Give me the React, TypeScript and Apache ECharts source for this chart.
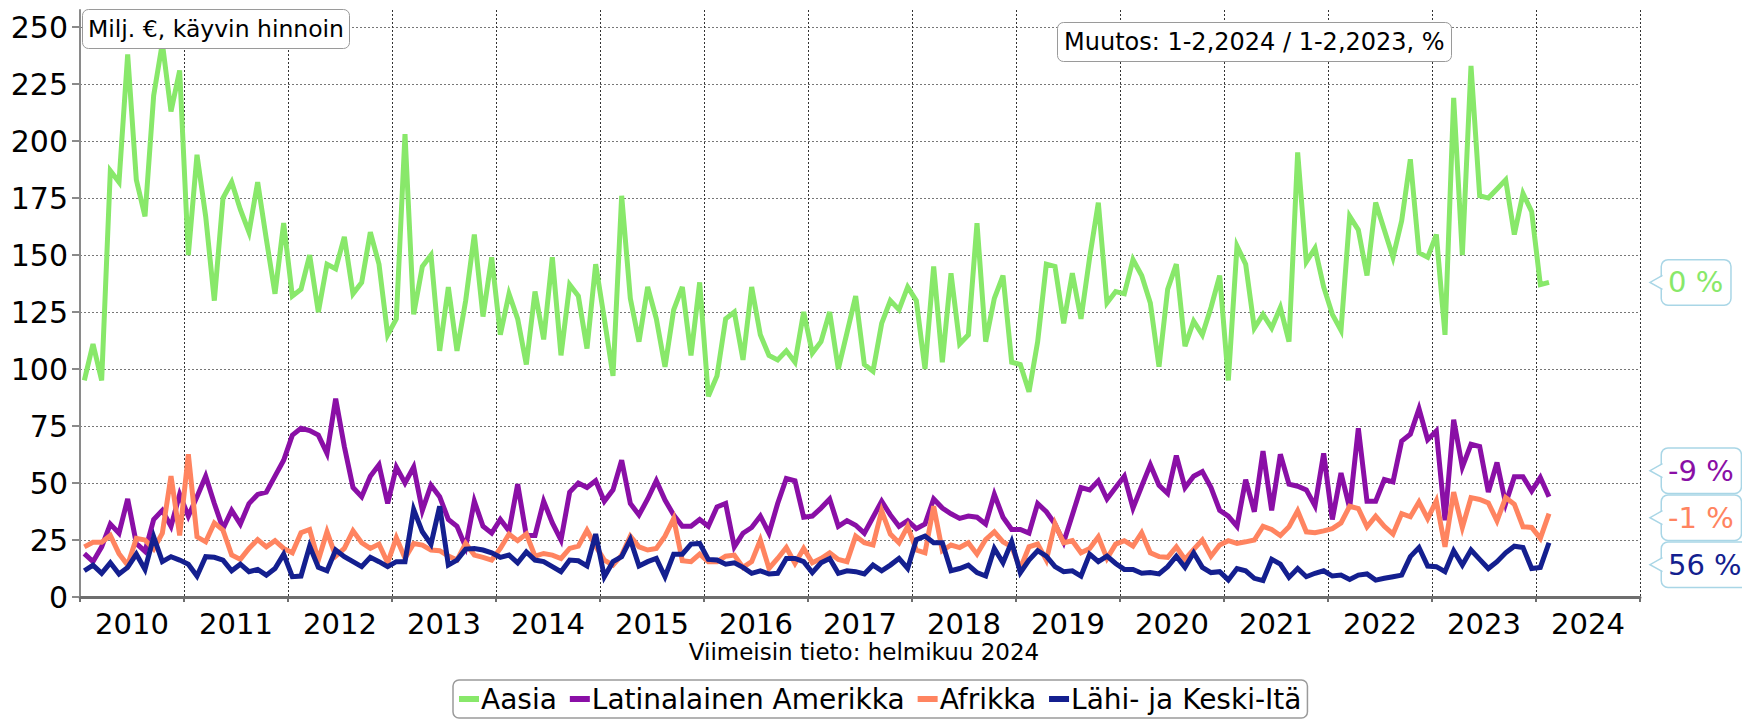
import React, { useEffect, useRef } from "react";
import * as echarts from "echarts";

const years = [2010, 2011, 2012, 2013, 2014, 2015, 2016, 2017, 2018, 2019, 2020, 2021, 2022, 2023, 2024];
const seriesNames = ["Aasia", "Latinalainen Amerikka", "Afrikka", "Lähi- ja Keski-Itä"];
const seriesColors = ["#88E86A", "#8A0FA6", "#FF8460", "#141F8F"];
const changeLabels = ["0 %", "-9 %", "-1 %", "56 %"];
const yTickStep = 25;
const yTop = 257.5;

// Monthly values, Jan 2010 – Feb 2024 (milj. €)
const aasia = [
  95, 111, 95, 187, 182, 238, 183, 167, 220, 243, 213, 231,
  150, 194, 167, 130, 175, 182, 170, 160, 182, 157, 133, 164,
  132, 135, 150, 125, 146, 144, 158, 133, 138, 160, 146, 115,
  122, 203, 124, 145, 150, 108, 136, 108, 130, 159, 123, 149,
  115, 133, 122, 102, 134, 113, 149, 106, 137, 132, 109, 146,
  122, 97, 176, 131, 112, 136, 122, 101, 126, 136, 106, 138,
  88, 97, 122, 125, 104, 136, 115, 106, 104, 108, 103, 125,
  107, 112, 125, 100, 116, 132, 102, 99, 120, 130, 126, 136,
  130, 100, 145, 103, 142, 111, 115, 164, 112, 131, 141, 103,
  102, 90, 112, 146, 145, 120, 142, 122, 149, 173, 129, 134,
  133, 148, 141, 129, 101, 135, 146, 110, 121, 115, 127, 141,
  95, 154, 146, 118, 124, 118, 127, 112, 195, 147, 153, 136,
  124, 117, 167, 161, 141, 173, 161, 149, 165, 192, 151, 149,
  159, 115, 219, 150, 233, 176, 175, 179, 183, 159, 177, 169,
  137, 138,
];
const latinalainenAmerikka = [
  19, 15.5, 22, 32, 28, 43, 23.5, 20, 34, 38, 31, 45,
  35.5, 44, 53, 41, 30, 38, 32, 41, 45, 46, 53, 60,
  71, 74, 73, 71, 63, 87, 66, 48, 44, 53, 58, 41,
  57, 50, 57, 38, 49, 44, 34, 31, 22, 42, 31, 28,
  34, 29, 49.5, 27, 27, 42, 32.5, 25, 46, 50, 48, 51,
  42, 47, 60, 41, 36, 43, 51, 42.5, 36, 31, 31, 34,
  31, 39.5, 41, 22, 28, 30.5, 35.5, 28, 41, 52, 51, 35,
  35.5, 39, 43, 31, 33.5, 31.5, 28, 35, 42, 36, 31, 33.5,
  30, 32, 43, 39, 36.5, 34.5, 35.5, 35, 32, 45, 35, 29.6,
  29.6, 28, 41, 37.4, 32, 24, 36, 48, 47, 51, 43, 48,
  53, 39, 48.6, 58, 49, 45.4, 62, 48, 53, 55, 48, 38,
  35.5, 31, 51.5, 37.4, 64, 38, 62.6, 49.5, 48.6, 47, 40, 63,
  34, 54.4, 39, 74, 42, 42, 51.5, 50.5, 68.4, 71.4, 82.6, 69,
  72.8, 33.7, 77.8, 57, 67, 66, 46, 59, 41, 52.7, 52.7, 46.5,
  52.4, 44,
];
const afrikka = [
  22, 24, 24, 27, 19, 14, 25.7, 25, 21, 28, 53, 27,
  62.6, 26.4, 24.2, 32.5, 29.3, 18.4, 16.5, 21.3, 25.2, 22, 24.7, 21.3,
  19.4, 28.2, 29.6, 16.2, 28.6, 17.9, 21.3, 29, 23.8, 21.3, 23.2, 15,
  26, 17, 23.5, 22.8, 20.6, 20.3, 18, 16.2, 23.5, 18.4, 17.4, 16.2,
  21.3, 27.6, 24.7, 27.6, 17.9, 19.1, 18.4, 16.9, 21.3, 22.3, 29.3, 22.3,
  16.2, 14, 18.4, 26.7, 22, 20.6, 21.3, 26.7, 34.4, 15.9, 15.5, 18.8,
  15.5, 15.5, 17.9, 18.4, 13, 15.5, 25, 12.5, 16.9, 21.7, 14.7, 21.3,
  15, 16.9, 19.4, 16.5, 15.5, 26.7, 23.8, 22.8, 37.8, 27.6, 23.8, 31,
  20.6, 19.4, 39.8, 20.3, 22.8, 21.7, 23.8, 18.8, 25.2, 28.6, 24.2, 22,
  12.5, 22, 23.2, 16.2, 32.2, 23.8, 24.7, 19.4, 21.3, 26.4, 16.9, 23.2,
  24.7, 22.3, 28.2, 19.4, 17.7, 17.4, 22, 16.5, 20.9, 25, 17.9, 22.8,
  24.7, 23.5, 24.2, 25, 31, 29.6, 27, 30.8, 37.8, 28.6, 28.2, 29,
  30, 32.5, 39.8, 38.8, 30.8, 35.5, 31, 27.6, 36.6, 35.2, 41.7, 34.4,
  42.2, 22, 46, 30.5, 43.6, 42.8, 41.3, 33.4, 43.6, 40.7, 30.8, 30.5,
  25.7, 36.6,
];
const lahiJaKeskiIta = [
  11.5, 14, 10.4, 15, 10.1, 13, 18.8, 12.1, 26.4, 15.5, 17.7, 16.2,
  14.4, 9.2, 17.7, 17.4, 16.2, 11.5, 14.4, 11.1, 12.1, 9.6, 12.5, 18.8,
  8.9, 9.2, 22.3, 13, 11.5, 20.6, 17.7, 15.5, 13.3, 17.4, 15.5, 13.3,
  15.5, 15.5, 38.4, 28.6, 23.2, 39.8, 14, 16.2, 21, 21.3, 20.6, 19.4,
  17.4, 18.4, 15, 19.8, 16.2, 15.5, 13.3, 11.1, 16.2, 15.9, 13.6, 27.6,
  8.9, 15.5, 17.7, 25.2, 13.6, 15.5, 16.9, 8.9, 18.8, 18.8, 23.2, 23.5,
  16.5, 16.2, 14.4, 15, 13, 10.4, 11.5, 10.1, 10.4, 16.9, 16.9, 15.5,
  10.7, 15, 16.9, 10.4, 11.5, 11.1, 10.1, 14, 11.5, 14, 16.9, 12.5,
  25.2, 26.7, 23.8, 23.8, 11.5, 12.5, 14, 10.7, 9.2, 21.3, 15, 24.2,
  10.7, 16.2, 20.3, 17.9, 13.3, 11.1, 11.5, 9.2, 18.8, 15.5, 17.9, 14.7,
  12.1, 12.1, 10.4, 10.7, 10.1, 13.3, 17.9, 13, 19.4, 13, 10.7, 11.1,
  7.5, 12.5, 11.5, 8.2, 7.2, 16.5, 14.4, 8.6, 12.5, 8.9, 10.4, 11.5,
  9.2, 9.6, 7.7, 9.6, 10.1, 7.4, 8.2, 8.9, 9.6, 17.7, 21.7, 13.6,
  13.3, 11.1, 20.3, 14, 20.6, 16.5, 12.5, 15.5, 19.4, 22.3, 21.7, 12.5,
  13, 23.8,
];

const allData = [aasia, latinalainenAmerikka, afrikka, lahiJaKeskiIta];
const FONT = "'DejaVu Sans', Verdana, sans-serif";

export default function App() {
  const ref = useRef<HTMLDivElement>(null);

  useEffect(() => {
    const el = ref.current;
    if (!el) return;
    const chart = echarts.init(el, null, { renderer: "svg" });
    const months = years.length * 12;

    const option: any = {
      animation: false,
      backgroundColor: "#fff",
      textStyle: { fontFamily: FONT },
      grid: { left: 80, right: 102, top: 10, bottom: 125, containLabel: false },
      title: [
        {
          text: "Milj. €, käyvin hinnoin",
          left: 82,
          top: 9,
          padding: [8, 6],
          borderColor: "#9a9a9a",
          borderWidth: 1,
          borderRadius: 6,
          backgroundColor: "#fff",
          textStyle: { fontSize: 23.5, fontWeight: "normal", color: "#000", fontFamily: FONT, lineHeight: 24 },
          z: 20,
        },
        {
          text: "Muutos: 1-2,2024 / 1-2,2023, %",
          left: 1057,
          top: 22,
          padding: [8, 7],
          borderColor: "#9a9a9a",
          borderWidth: 1,
          borderRadius: 6,
          backgroundColor: "#fff",
          textStyle: { fontSize: 24, fontWeight: "normal", color: "#000", fontFamily: FONT, lineHeight: 24 },
          z: 20,
        },
      ],
      legend: {
        data: seriesNames,
        left: 453,
        top: 680,
        icon: "rect",
        itemWidth: 20,
        itemHeight: 6,
        itemGap: 13,
        padding: [5, 6],
        borderColor: "#9a9a9a",
        borderWidth: 1.5,
        borderRadius: 6,
        textStyle: { fontSize: 28, color: "#000", fontFamily: FONT, padding: [0, 0, 0, -3] },
        selectedMode: false,
      },
      xAxis: [
        {
          type: "value",
          min: 0,
          max: months,
          interval: 12,
          axisLabel: { show: false },
          axisLine: { show: true, lineStyle: { color: "#6e6e6e", width: 3 } },
          axisTick: { show: true, length: 5, lineStyle: { color: "#6e6e6e", width: 2 } },
          splitLine: { show: true, lineStyle: { type: [2, 2], color: "#333", width: 1 } },
        },
        {
          type: "value",
          min: 0,
          max: months,
          interval: 6,
          position: "bottom",
          axisLine: { show: false },
          axisTick: { show: false },
          splitLine: { show: false },
          axisLabel: {
            formatter: (v: number) => (v % 12 === 6 ? String(years[(v - 6) / 12]) : ""),
            fontSize: 29,
            color: "#000",
            fontFamily: FONT,
            margin: 12,
          },
        },
      ],
      yAxis: {
        type: "value",
        min: 0,
        max: yTop,
        interval: yTickStep,
        axisLine: { show: true, lineStyle: { color: "#8a8a8a", width: 2 } },
        axisTick: { show: true, length: 8, lineStyle: { color: "#8a8a8a", width: 2 } },
        axisLabel: { fontSize: 30, color: "#000", fontFamily: FONT, margin: 12, showMaxLabel: false },
        splitLine: { show: true, showMaxLine: false, lineStyle: { type: [2, 2], color: "#777", width: 1 } },
      },
      series: seriesNames.map((name, k) => ({
        name,
        type: "line",
        xAxisIndex: 0,
        yAxisIndex: 0,
        data: allData[k].map((v, i) => [i + 0.5, v]),
        showSymbol: false,
        symbol: "none",
        lineStyle: { width: 5, color: seriesColors[k], join: "miter" },
        itemStyle: { color: seriesColors[k] },
        emphasis: { disabled: true },
        z: 2 + k,
      })),
    };

    chart.setOption(option);

    // Callout labels at the right, centred on each series' last value, spread apart when they overlap
    const STEP = 47;
    const ys = allData.map((arr) => {
      const p = chart.convertToPixel({ gridIndex: 0 }, [arr.length - 0.5, arr[arr.length - 1]]) as number[];
      return p[1];
    });
    const sorted = ys.map((y, k) => ({ k, y })).sort((a, b) => a.y - b.y);
    let groups = sorted.map((it) => ({ members: [it], mean: it.y }));
    let changed = true;
    while (changed) {
      changed = false;
      for (let g = 0; g < groups.length - 1; g++) {
        const a = groups[g];
        const b = groups[g + 1];
        const aBottom = a.mean + ((a.members.length - 1) / 2) * STEP + STEP / 2;
        const bTop = b.mean - ((b.members.length - 1) / 2) * STEP - STEP / 2;
        if (aBottom > bTop) {
          const members = a.members.concat(b.members);
          const mean = members.reduce((s, m) => s + m.y, 0) / members.length;
          groups.splice(g, 2, { members, mean });
          changed = true;
          break;
        }
      }
    }
    const centers: number[] = new Array(ys.length).fill(0);
    groups.forEach((g) => {
      g.members.forEach((m, j) => {
        centers[m.k] = g.mean + (j - (g.members.length - 1) / 2) * STEP;
      });
    });

    const boxX = 1662;
    const tipX = 1650;
    const border = "#a9d6e6";
    const graphics: any[] = [
      {
        type: "text",
        x: 864,
        y: 652,
        style: {
          text: "Viimeisin tieto: helmikuu 2024",
          fill: "#000",
          font: `23px ${FONT}`,
          align: "center",
          verticalAlign: "middle",
        },
      },
    ];
    centers.forEach((cy, k) => {
      graphics.push({
        type: "text",
        x: boxX,
        y: cy,
        z: 100,
        style: {
          text: changeLabels[k],
          fill: seriesColors[k],
          fontSize: 29,
          fontFamily: FONT,
          align: "left",
          verticalAlign: "middle",
          lineHeight: 32,
          backgroundColor: "#fff",
          borderColor: border,
          borderWidth: 1.5,
          borderRadius: 6,
          padding: [6, 7, 6, 6],
        },
      });
      graphics.push({
        type: "polygon",
        z: 101,
        shape: { points: [[tipX, cy], [boxX + 1.5, cy - 7], [boxX + 1.5, cy + 7]] },
        style: { fill: "#fff" },
      });
      graphics.push({
        type: "polyline",
        z: 102,
        shape: { points: [[boxX + 0.5, cy - 7], [tipX, cy], [boxX + 0.5, cy + 7]] },
        style: { stroke: border, lineWidth: 1.5, fill: null },
      });
    });
    chart.setOption({ graphic: graphics });

    return () => {
      chart.dispose();
    };
  }, []);

  return (
    <div
      ref={ref}
      style={{ position: "absolute", left: 0, top: 0, width: 1742, height: 722, background: "#fff" }}
    />
  );
}
